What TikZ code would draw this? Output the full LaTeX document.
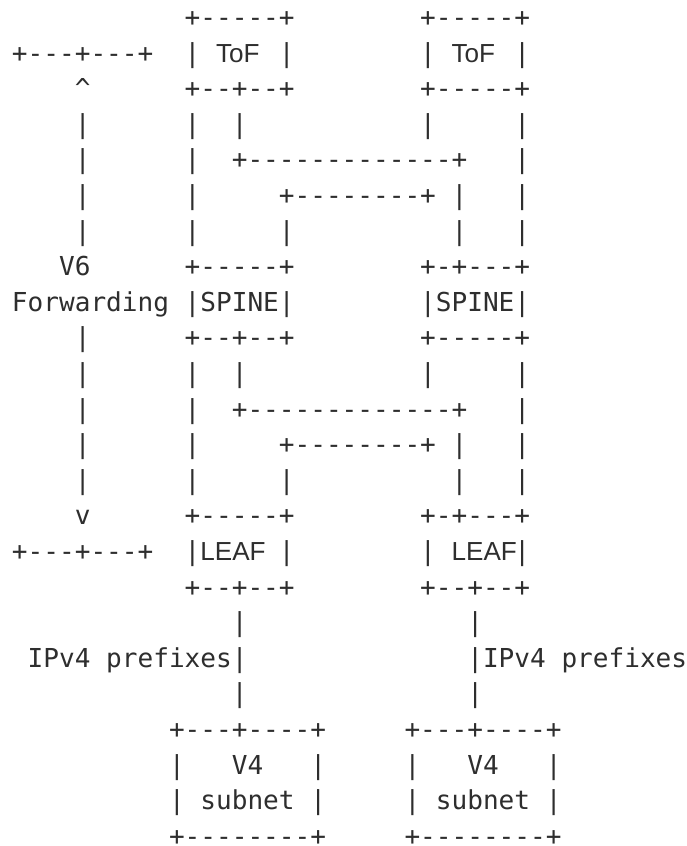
\documentclass[tikz,border=0pt]{standalone}
\usepackage{fontspec}
\setmonofont{DejaVu Sans Mono}
\newfontfamily\labelsans{Liberation Sans}
\definecolor{ink}{HTML}{2E2E2E}
\tikzset{
  mono/.style={anchor=base west, inner sep=0pt, outer sep=0pt, text=ink,
    font=\fontsize{26.08}{30}\selectfont\ttfamily},
  sanslabel/.style={anchor=base west, inner sep=0pt, outer sep=0pt, text=ink,
    font=\fontsize{26.08}{30}\selectfont\labelsans}
}
\newcommand\ascseg[3]{\node[mono] (r#1c#2) at ({12+#2*15.7},{-26.4-(#1-1)*35.6}) {#3};}
\newcommand\sansseg[3]{\node[sanslabel] (s#1c#2) at ({12+#2*15.7},{-26.4-(#1-1)*35.6}) {#3};}
\begin{document}
\begin{tikzpicture}[x=1pt,y=1pt]
\useasboundingbox[fill=white] (0,0) rectangle (686,-846);
% row 1
\ascseg{1}{11}{+-----+}\ascseg{1}{26}{+-----+}
% row 2
\ascseg{2}{0}{+---+---+}\ascseg{2}{11}{|}\ascseg{2}{17}{|}\ascseg{2}{26}{|}\ascseg{2}{32}{|}
\sansseg{2}{13}{ToF}\sansseg{2}{28}{ToF}
% row 3
\ascseg{3}{4}{\textasciicircum}\ascseg{3}{11}{+--+--+}\ascseg{3}{26}{+-----+}
% row 4
\ascseg{4}{4}{|}\ascseg{4}{11}{|}\ascseg{4}{14}{|}\ascseg{4}{26}{|}\ascseg{4}{32}{|}
% row 5
\ascseg{5}{4}{|}\ascseg{5}{11}{|}\ascseg{5}{14}{+-------------+}\ascseg{5}{32}{|}
% row 6
\ascseg{6}{4}{|}\ascseg{6}{11}{|}\ascseg{6}{17}{+--------+}\ascseg{6}{28}{|}\ascseg{6}{32}{|}
% row 7
\ascseg{7}{4}{|}\ascseg{7}{11}{|}\ascseg{7}{17}{|}\ascseg{7}{28}{|}\ascseg{7}{32}{|}
% row 8
\ascseg{8}{3}{V6}\ascseg{8}{11}{+-----+}\ascseg{8}{26}{+-+---+}
% row 9
\ascseg{9}{0}{Forwarding}\ascseg{9}{11}{|SPINE|}\ascseg{9}{26}{|SPINE|}
% row 10
\ascseg{10}{4}{|}\ascseg{10}{11}{+--+--+}\ascseg{10}{26}{+-----+}
% row 11
\ascseg{11}{4}{|}\ascseg{11}{11}{|}\ascseg{11}{14}{|}\ascseg{11}{26}{|}\ascseg{11}{32}{|}
% row 12
\ascseg{12}{4}{|}\ascseg{12}{11}{|}\ascseg{12}{14}{+-------------+}\ascseg{12}{32}{|}
% row 13
\ascseg{13}{4}{|}\ascseg{13}{11}{|}\ascseg{13}{17}{+--------+}\ascseg{13}{28}{|}\ascseg{13}{32}{|}
% row 14
\ascseg{14}{4}{|}\ascseg{14}{11}{|}\ascseg{14}{17}{|}\ascseg{14}{28}{|}\ascseg{14}{32}{|}
% row 15
\ascseg{15}{4}{v}\ascseg{15}{11}{+-----+}\ascseg{15}{26}{+-+---+}
% row 16
\ascseg{16}{0}{+---+---+}\ascseg{16}{11}{|}\ascseg{16}{17}{|}\ascseg{16}{26}{|}\ascseg{16}{32}{|}
\sansseg{16}{12}{LEAF}\sansseg{16}{28}{LEAF}
% row 17
\ascseg{17}{11}{+--+--+}\ascseg{17}{26}{+--+--+}
% row 18
\ascseg{18}{14}{|}\ascseg{18}{29}{|}
% row 19
\ascseg{19}{1}{IPv4}\ascseg{19}{6}{prefixes}\ascseg{19}{14}{|}
\ascseg{19}{29}{|}\ascseg{19}{30}{IPv4}\ascseg{19}{35}{prefixes}
% row 20
\ascseg{20}{14}{|}\ascseg{20}{29}{|}
% row 21
\ascseg{21}{10}{+---+----+}\ascseg{21}{25}{+---+----+}
% row 22
\ascseg{22}{10}{|}\ascseg{22}{14}{V4}\ascseg{22}{19}{|}\ascseg{22}{25}{|}\ascseg{22}{29}{V4}\ascseg{22}{34}{|}
% row 23
\ascseg{23}{10}{|}\ascseg{23}{12}{subnet}\ascseg{23}{19}{|}\ascseg{23}{25}{|}\ascseg{23}{27}{subnet}\ascseg{23}{34}{|}
% row 24
\ascseg{24}{10}{+--------+}\ascseg{24}{25}{+--------+}
\end{tikzpicture}
\end{document}
